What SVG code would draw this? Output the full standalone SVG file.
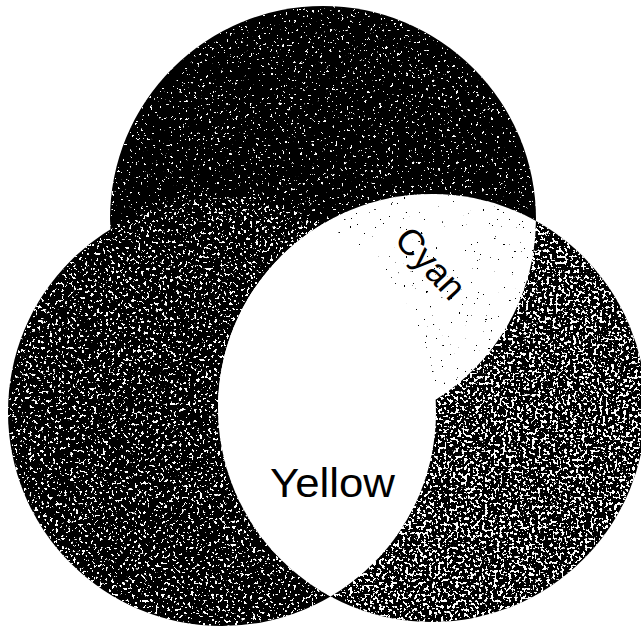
<svg xmlns="http://www.w3.org/2000/svg" width="641" height="630" viewBox="0 0 641 630">
<style>
.lbl{font-family:"Liberation Sans",Arial,sans-serif;fill:#000;}
.ink{fill:#000;}
.paper{fill:#fff;}
</style>
<defs>
<clipPath id="cT"><circle cx="323" cy="219" r="213"/></clipPath>
<clipPath id="cL"><circle cx="222" cy="412" r="214"/></clipPath>
<clipPath id="cR"><circle cx="432" cy="408" r="214"/></clipPath>
<filter id="fTop" filterUnits="userSpaceOnUse" x="0" y="0" width="641" height="630" color-interpolation-filters="sRGB">
<feTurbulence type="fractalNoise" baseFrequency="0.34" numOctaves="2" seed="7"/>
<feColorMatrix type="matrix" values="0 0 0 0 1 0 0 0 0 1 0 0 0 0 1 1 0 0 0 0"/>
<feComponentTransfer><feFuncA type="linear" slope="40" intercept="-27.2"/></feComponentTransfer>
<feComposite operator="in" in2="SourceGraphic"/>
</filter>
<filter id="fLeft" filterUnits="userSpaceOnUse" x="0" y="0" width="641" height="630" color-interpolation-filters="sRGB">
<feTurbulence type="fractalNoise" baseFrequency="0.34" numOctaves="2" seed="21"/>
<feColorMatrix type="matrix" values="0 0 0 0 1 0 0 0 0 1 0 0 0 0 1 1 0 0 0 0"/>
<feComponentTransfer><feFuncA type="linear" slope="40" intercept="-24.6"/></feComponentTransfer>
<feComposite operator="in" in2="SourceGraphic"/>
</filter>
<filter id="fRight" filterUnits="userSpaceOnUse" x="0" y="0" width="641" height="630" color-interpolation-filters="sRGB">
<feTurbulence type="fractalNoise" baseFrequency="0.34" numOctaves="2" seed="43"/>
<feColorMatrix type="matrix" values="0 0 0 0 1 0 0 0 0 1 0 0 0 0 1 1 0 0 0 0"/>
<feComponentTransfer><feFuncA type="linear" slope="40" intercept="-22.4"/></feComponentTransfer>
<feComposite operator="in" in2="SourceGraphic"/>
</filter>
<filter id="fCyan" filterUnits="userSpaceOnUse" x="0" y="0" width="641" height="630" color-interpolation-filters="sRGB">
<feTurbulence type="fractalNoise" baseFrequency="0.34" numOctaves="2" seed="5"/>
<feColorMatrix type="matrix" values="0 0 0 0 0 0 0 0 0 0 0 0 0 0 0 -1 0 0 0 1"/>
<feComponentTransfer><feFuncA type="linear" slope="40" intercept="-30.8"/></feComponentTransfer>
<feComposite operator="in" in2="SourceGraphic"/>
</filter>
</defs>
<rect width="641" height="630" fill="#fff"/>
<g id="circle-top">
<circle class="ink" cx="323" cy="219" r="213"/>
<g clip-path="url(#cT)"><rect width="641" height="630" fill="#fff" filter="url(#fTop)"/></g>
</g>
<g id="circle-left">
<circle class="ink" cx="222" cy="412" r="214"/>
<g clip-path="url(#cL)"><rect width="641" height="630" fill="#fff" filter="url(#fLeft)"/></g>
</g>
<g id="circle-right">
<circle class="ink" cx="432" cy="408" r="214"/>
<g clip-path="url(#cR)"><rect width="641" height="630" fill="#fff" filter="url(#fRight)"/></g>
</g>
<g id="region-cyan" clip-path="url(#cR)">
<circle class="paper" cx="323" cy="219" r="213"/>
<g clip-path="url(#cT)"><rect width="641" height="630" fill="#000" filter="url(#fCyan)"/></g>
</g>
<g id="region-yellow" clip-path="url(#cR)">
<circle class="paper" cx="222" cy="412" r="214"/>
</g>
<g id="labels">
<text class="lbl" font-size="36" transform="translate(393,241) rotate(47)">Cyan</text>
<text class="lbl" font-size="40" x="270" y="497" textLength="125" lengthAdjust="spacingAndGlyphs">Yellow</text>
</g>
</svg>
